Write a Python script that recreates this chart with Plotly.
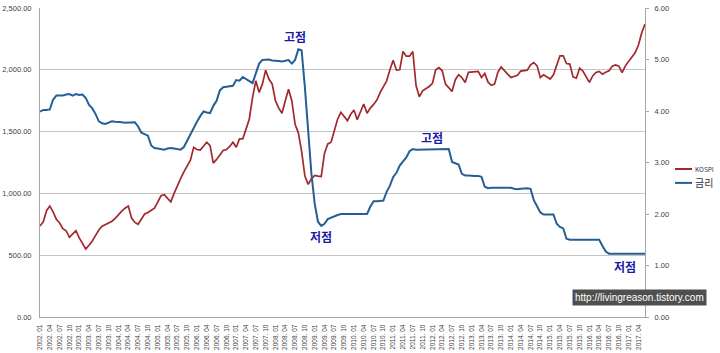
import plotly.graph_objects as go

# ---- data (monthly, 2002.01 - 2017.06) ----
years = list(range(2002, 2018))
months = [f"{y}. {m:02d}" for y in years for m in range(1, 13)][:186]

kospi = [
    736, 770, 860, 897, 850, 790, 760, 715, 698, 645, 672, 698,
    640, 590, 550, 580, 615, 660, 704, 735, 748, 760, 775, 798,
    830, 857, 880, 898, 800, 765, 750, 790, 833, 845, 860, 880,
    930, 981, 990, 960, 932, 1000, 1067, 1120, 1175, 1220, 1268, 1373,
    1355, 1350, 1380, 1414, 1387, 1245, 1275, 1310, 1347, 1355, 1380, 1414,
    1373, 1441, 1441, 1520, 1602, 1777, 1911, 1817, 1884, 1997, 1925, 1884,
    1750, 1690, 1648, 1750, 1843, 1750, 1560, 1490, 1340, 1140, 1073, 1118,
    1145, 1140, 1137, 1325, 1400, 1414, 1500, 1600, 1656, 1620, 1589, 1640,
    1675, 1597, 1660, 1723, 1648, 1690, 1720, 1755, 1815, 1870, 1911, 2000,
    2078, 1997, 2000, 2148, 2110, 2110, 2148, 1871, 1782, 1830, 1845, 1865,
    1890, 2000, 2018, 1992, 1884, 1850, 1825, 1920, 1960, 1938, 1898, 1979,
    1982, 1985, 1987, 1938, 1970, 1900, 1875, 1884, 1980, 2024, 1992, 1965,
    1938, 1945, 1955, 1990, 1995, 1997, 2040, 2059, 2032, 1938, 1960, 1945,
    1925, 1960, 2040, 2113, 2113, 2051, 2046, 1943, 1932, 2013, 1990, 1940,
    1898, 1950, 1978, 1987, 1965, 1980, 1992, 2030, 2040, 2030, 1978, 2032,
    2070, 2110, 2140, 2200, 2300, 2370,
]

rate = [
    3.99, 4.02, 4.02, 4.03, 4.22, 4.30, 4.30, 4.30, 4.32, 4.33, 4.30, 4.33,
    4.31, 4.32, 4.25, 4.12, 4.05, 3.94, 3.80, 3.76, 3.75, 3.77, 3.80, 3.79,
    3.79, 3.78, 3.77, 3.77, 3.78, 3.78, 3.70, 3.58, 3.55, 3.52, 3.33, 3.28,
    3.27, 3.26, 3.25, 3.27, 3.28, 3.27, 3.26, 3.25, 3.30, 3.43, 3.55, 3.68,
    3.79, 3.90, 3.99, 3.97, 3.96, 4.10, 4.20, 4.40, 4.46, 4.47, 4.48, 4.49,
    4.60, 4.59, 4.66, 4.62, 4.58, 4.54, 4.73, 4.92, 4.99, 5.00, 5.00, 4.98,
    4.98, 4.97, 4.96, 4.98, 4.99, 4.92, 4.99, 5.20, 5.18, 4.46, 3.55, 2.78,
    2.20, 1.85, 1.77, 1.81, 1.90, 1.93, 1.96, 1.98, 2.00, 2.00, 2.01, 2.00,
    2.01, 2.00, 2.00, 2.00, 2.00, 2.14, 2.25, 2.25, 2.26, 2.26, 2.43, 2.55,
    2.72, 2.80, 2.94, 3.01, 3.10, 3.22, 3.26, 3.25, 3.25, 3.25, 3.26, 3.26,
    3.26, 3.26, 3.26, 3.26, 3.26, 3.26, 3.01, 2.99, 2.96, 2.78, 2.75, 2.75,
    2.74, 2.74, 2.74, 2.72, 2.53, 2.50, 2.51, 2.51, 2.51, 2.51, 2.51, 2.51,
    2.51, 2.49, 2.48, 2.49, 2.50, 2.50, 2.49, 2.27, 2.15, 2.03, 1.99, 1.99,
    1.99, 1.99, 1.81, 1.75, 1.72, 1.52, 1.50, 1.50, 1.50, 1.50, 1.50, 1.50,
    1.50, 1.50, 1.50, 1.50, 1.38, 1.27, 1.23, 1.23, 1.23, 1.23, 1.24, 1.23,
    1.23, 1.24, 1.23, 1.23, 1.24, 1.23,
]

tick_labels = months[::3]
left_ticks = [0, 500, 1000, 1500, 2000, 2500]
right_ticks = [0, 1, 2, 3, 4, 5, 6]

notes = [  # (text, category, kospi-axis value)
    ("고점", "2008. 07", 2270),
    ("저점", "2009. 03", 650),
    ("고점", "2012. 01", 1450),
    ("저점", "2016. 12", 405),
]

RED = "#a3282c"
BLUE = "#255f97"
NOTE = "#1a1aa6"
AX = "#a6a6a6"
TXT = "#404040"
TICKFONT = dict(family="Liberation Sans, Arial", size=7.5, color=TXT)

fig = go.Figure()
fig.add_trace(go.Scatter(x=months, y=kospi, mode="lines", name="KOSPI",
                         line=dict(color=RED, width=1.7), yaxis="y"))
fig.add_trace(go.Scatter(x=months, y=rate, mode="lines", name="금리",
                         line=dict(color=BLUE, width=2), yaxis="y2"))

fig.update_layout(
    width=720, height=353,
    margin=dict(l=40, r=75, t=8, b=36),
    paper_bgcolor="white", plot_bgcolor="white",
    showlegend=False,
    xaxis=dict(
        type="category", categoryorder="array", categoryarray=months,
        range=[0, len(months) - 1], automargin=False,
        tickmode="array", tickvals=tick_labels, ticktext=tick_labels,
        tickangle=-90, tickfont=dict(family="Liberation Sans, Arial", size=6.5, color=TXT),
        showgrid=False, showline=True, linecolor=AX, linewidth=1,
        ticks="", ticklabelstandoff=4, zeroline=False,
    ),
    yaxis=dict(
        range=[0, 2500], tickvals=left_ticks, automargin=False,
        tickformat=",.2f", tickfont=TICKFONT,
        showgrid=True, gridcolor="#c4c4c4", gridwidth=1,
        showline=True, linecolor=AX, linewidth=1,
        zeroline=False, ticks="", ticklabelstandoff=6,
    ),
    yaxis2=dict(
        range=[0, 6], tickvals=right_ticks, tickformat=".2f", automargin=False,
        tickfont=TICKFONT, overlaying="y", side="right",
        showgrid=False, showline=True, linecolor=AX, linewidth=1,
        zeroline=False, ticks="outside", ticklen=3, tickcolor=AX,
        ticklabelstandoff=4,
    ),
)

for text, cat, val in notes:
    fig.add_annotation(x=cat, y=val, xref="x", yref="y", text=f"<b>{text}</b>",
                       showarrow=False,
                       font=dict(family="Noto Sans CJK KR", size=12, color=NOTE))

# legend drawn manually (compact Excel-style)
legend_items = [("KOSPI", RED, 0.479, 6.5), ("금리", BLUE, 0.434, 10)]
for name, color, yy, fs in legend_items:
    fig.add_shape(type="line", xref="paper", yref="paper",
                  x0=1.0496, x1=1.0777, y0=yy, y1=yy,
                  line=dict(color=color, width=2))
    fig.add_annotation(xref="paper", yref="paper", x=1.0795, y=yy,
                       xanchor="left", yanchor="middle", text=name, showarrow=False,
                       font=dict(family="Noto Sans CJK KR, Liberation Sans", size=fs, color="#333333"))

# watermark
fig.add_annotation(xref="paper", yref="paper", x=0.9905, y=0.0615,
                   xanchor="center", yanchor="middle",
                   text="http://livingreason.tistory.com", showarrow=False,
                   bgcolor="#4f4f4f", borderpad=2,
                   font=dict(family="Liberation Sans, Arial", size=10, color="white"))

fig.write_html("out.html")
